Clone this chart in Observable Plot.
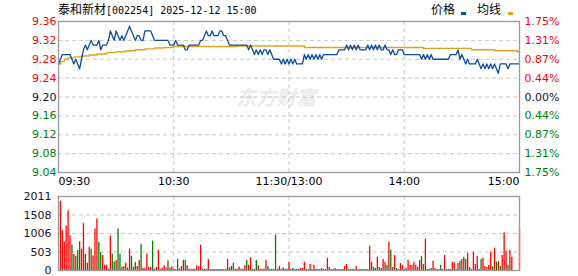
<!DOCTYPE html>
<html><head><meta charset="utf-8">
<script src="https://cdn.jsdelivr.net/npm/d3@7"></script>
<script src="https://cdn.jsdelivr.net/npm/@observablehq/plot@0.6"></script>
<style>
body{margin:0;background:#fff;}
#wrap{position:relative;width:578px;height:276px;overflow:hidden;font-family:"DejaVu Sans",sans-serif;}
#wrap svg{position:absolute;left:0;}
.t{position:absolute;white-space:nowrap;line-height:14px;color:#000;}
.cjk{font-family:"Noto Sans CJK SC";font-size:12px;}
.mono{font-family:"DejaVu Sans Mono";font-size:10px;}
.wm{position:absolute;left:236px;top:82px;font-family:"Noto Sans CJK SC";font-size:20px;font-weight:bold;font-style:italic;color:#ebebeb;white-space:nowrap;}
.sw{position:absolute;width:5px;height:3px;}
</style></head><body><div id="wrap">
<div class="wm">东方财富</div>
<div class="t" style="left:58px;top:2px;"><span class="cjk">泰和新材</span><span class="mono">[002254] 2025-12-12 15:00</span></div>
<div class="t cjk" style="left:431px;top:2px;">价格</div>
<div class="sw" style="left:461px;top:12px;background:#0A4DA2;"></div>
<div class="t cjk" style="left:477px;top:2px;">均线</div>
<div class="sw" style="left:508px;top:12px;background:#DDA21F;"></div>
</div>
<script>
const prevClose = 9.20;
const priceTicks = [9.36, 9.32, 9.28, 9.24, 9.20, 9.16, 9.12, 9.08, 9.04];
const pctLabels = ["1.75%", "1.31%", "0.87%", "0.44%", "0.00%", "0.44%", "0.87%", "1.31%", "1.75%"];
const volTicks = [2011, 1508, 1006, 503, 0];
const timeTicks = [0, 60, 120, 180, 240];
const timeLabels = ["09:30", "10:30", "11:30/13:00", "14:00", "15:00"];

// minute prices, index 0 = 09:30 ... 240 = 15:00
const price = [
9.27,9.28,9.29,9.29,9.29,9.29,9.29,9.28,9.27,9.28,
9.27,9.26,9.28,9.30,9.31,9.30,9.31,9.32,9.31,9.31,
9.31,9.32,9.30,9.31,9.31,9.31,9.32,9.34,9.33,9.32,
9.34,9.33,9.32,9.33,9.32,9.33,9.34,9.35,9.34,9.33,
9.32,9.33,9.33,9.32,9.32,9.34,9.34,9.34,9.34,9.33,
9.32,9.32,9.32,9.32,9.32,9.32,9.32,9.32,9.31,9.31,
9.31,9.32,9.31,9.31,9.31,9.31,9.30,9.30,9.31,9.31,
9.31,9.31,9.31,9.31,9.32,9.32,9.33,9.34,9.33,9.33,
9.34,9.33,9.33,9.33,9.34,9.34,9.33,9.33,9.32,9.31,
9.31,9.31,9.31,9.31,9.31,9.31,9.31,9.31,9.31,9.30,
9.31,9.30,9.29,9.30,9.29,9.30,9.29,9.30,9.30,9.29,
9.30,9.29,9.28,9.28,9.28,9.28,9.27,9.28,9.27,9.28,
9.27,9.28,9.27,9.28,9.27,9.27,9.27,9.27,9.29,9.28,
9.29,9.28,9.29,9.28,9.29,9.28,9.29,9.28,9.29,9.29,
9.29,9.29,9.29,9.29,9.29,9.29,9.30,9.30,9.30,9.30,
9.31,9.30,9.31,9.30,9.31,9.30,9.31,9.30,9.30,9.30,
9.30,9.31,9.30,9.31,9.30,9.31,9.30,9.31,9.30,9.30,
9.31,9.30,9.30,9.29,9.30,9.29,9.29,9.30,9.30,9.30,
9.29,9.29,9.29,9.29,9.29,9.29,9.29,9.29,9.29,9.28,
9.29,9.28,9.29,9.28,9.29,9.28,9.28,9.28,9.28,9.28,
9.28,9.28,9.28,9.28,9.29,9.29,9.29,9.29,9.30,9.28,
9.29,9.28,9.27,9.28,9.27,9.27,9.27,9.27,9.28,9.27,
9.26,9.27,9.26,9.27,9.26,9.27,9.26,9.27,9.26,9.25,
9.27,9.27,9.27,9.27,9.26,9.27,9.27,9.27,9.27,9.27,
9.27
];

// average-price line read at the minutes where it changes
const avgMinute = [0, 1, 3, 5, 8, 12, 16, 20, 25, 30, 35, 40, 45, 50, 55, 60, 93, 128, 190, 215, 227, 239, 240];
const avgValue = [9.270, 9.275, 9.280, 9.283, 9.285, 9.287, 9.289, 9.291, 9.294, 9.296, 9.298, 9.300, 9.302, 9.304, 9.305, 9.307, 9.308, 9.305, 9.303, 9.300, 9.298, 9.296, 9.296];

// minute volumes (lots)
const volume = [
0,1880,1075,780,1210,1625,945,690,440,385,
550,780,580,1275,440,200,630,580,395,1130,
1400,770,480,410,140,140,30,940,440,230,
275,1130,440,90,110,200,70,580,385,90,
220,110,275,715,60,60,450,90,80,800,
35,90,550,35,60,130,70,260,70,100,
30,30,300,45,110,275,275,130,35,35,
35,35,130,100,690,35,35,35,300,30,
30,30,30,30,30,30,30,30,300,70,
110,200,35,35,90,35,35,130,275,140,
350,35,35,275,130,35,35,35,275,110,
35,35,35,965,35,110,35,70,35,35,
220,30,55,30,30,30,55,55,220,30,
30,165,30,140,30,30,30,55,30,30,
330,80,30,30,55,30,30,30,30,110,
165,30,30,30,30,110,30,30,30,30,
30,30,660,220,80,55,360,80,55,300,
220,140,770,550,80,410,55,30,190,140,
30,55,275,140,140,220,140,80,275,385,
165,855,30,30,55,250,55,30,30,140,
30,410,30,30,30,220,220,30,190,250,
300,360,300,470,80,30,495,165,385,30,
300,330,110,80,140,495,110,605,220,250,
110,410,1020,525,140,550,360,0,0,0,
1130
];
// 1 = up (red), -1 = down (green)
const volDir = [
1,1,1,1,1,1,1,-1,1,-1,
-1,1,1,1,-1,1,1,-1,1,1,
1,-1,-1,1,1,1,1,1,-1,-1,
1,-1,-1,-1,1,1,1,1,-1,-1,
-1,1,1,-1,1,1,1,1,1,-1,
1,1,1,1,1,1,1,-1,1,1,
1,1,-1,1,1,1,-1,1,1,1,
1,1,1,1,1,1,1,-1,1,1,
-1,1,1,-1,1,1,1,-1,1,-1,
1,-1,1,1,1,1,1,1,-1,1,
1,1,-1,-1,1,1,1,1,1,-1,
1,-1,1,-1,1,1,-1,1,1,-1,
1,-1,-1,1,-1,1,1,1,1,-1,
1,1,1,1,-1,-1,1,1,-1,1,
1,1,1,1,1,1,1,1,1,1,
1,1,1,-1,1,1,1,1,1,1,
1,1,1,-1,-1,1,1,-1,1,1,
1,-1,1,-1,1,1,-1,1,1,1,
-1,1,1,1,1,1,1,1,1,-1,
1,1,-1,-1,-1,1,1,1,1,-1,
1,1,1,1,1,1,1,-1,1,-1,
1,-1,1,1,-1,1,1,1,1,1,
-1,1,1,1,1,1,-1,1,-1,1,
-1,1,1,1,-1,1,1,1,1,1,
1
];

const RED = "#FF0000", GREEN = "#008000", DARK = "#141432", GRID = "#c8c8c8", FRAME = "#9a9a9a";
const font = {fontFamily: "DejaVu Sans, sans-serif", fontSize: "11px", background: "none", overflow: "visible"};

const avgData = avgMinute.map((m, i) => ({m, v: avgValue[i]}));
const tickColor = d => d > prevClose ? RED : d < prevClose ? GREEN : DARK;

const priceChart = Plot.plot({
  width: 578, height: 190,
  marginLeft: 58, marginRight: 59, marginTop: 21, marginBottom: 18,
  x: {domain: [0, 240], axis: null},
  y: {domain: [9.04, 9.36], axis: null},
  style: font,
  marks: [
    Plot.ruleY(priceTicks.slice(1, -1), {stroke: GRID, strokeDasharray: "4,3"}),
    Plot.ruleX(timeTicks.slice(1, -1), {stroke: GRID, strokeDasharray: "4,3"}),
    Plot.line(avgData, {x: "m", y: "v", curve: "step-after", stroke: "#DDA21F", strokeWidth: 1.4}),
    Plot.line(price, {x: (d, i) => i, y: d => d, stroke: "#0A4DA2", strokeWidth: 1.3}),
    Plot.frame({stroke: FRAME, strokeWidth: 1.3}),
    ...[RED, DARK, GREEN].map(c => Plot.text(priceTicks, {
      filter: d => tickColor(d) === c, y: d => d, text: d => d.toFixed(2),
      frameAnchor: "left", textAnchor: "end", dx: -2, fill: c
    })),
    ...[RED, DARK, GREEN].map(c => Plot.text(priceTicks, {
      filter: d => tickColor(d) === c, y: d => d, text: (d, i) => pctLabels[i],
      frameAnchor: "right", textAnchor: "start", dx: 5, fill: c
    })),
    Plot.text(timeTicks, {filter: (d, i) => i === 0, x: d => d, text: (d, i) => timeLabels[i], frameAnchor: "bottom", dy: 12, textAnchor: "start", fill: "#000"}),
    Plot.text(timeTicks, {filter: (d, i) => i > 0 && i < timeTicks.length - 1, x: d => d, text: (d, i) => timeLabels[i], frameAnchor: "bottom", dy: 12, textAnchor: "middle", fill: "#000"}),
    Plot.text(timeTicks, {filter: (d, i) => i === timeTicks.length - 1, x: d => d, text: (d, i) => timeLabels[i], frameAnchor: "bottom", dy: 12, textAnchor: "end", fill: "#000"})
  ]
});
priceChart.style.top = "0px";

const volumeChart = Plot.plot({
  width: 578, height: 86,
  marginLeft: 58, marginRight: 59, marginTop: 6, marginBottom: 6,
  x: {domain: [0, 240], axis: null},
  y: {domain: [0, 2011], axis: null},
  style: font,
  marks: [
    Plot.ruleY(volTicks.slice(1, -1), {stroke: GRID, strokeDasharray: "4,3"}),
    Plot.ruleX(timeTicks.slice(1, -1), {stroke: GRID, strokeDasharray: "4,3"}),
    Plot.ruleX(volume, {filter: (d, i) => volDir[i] > 0 && d > 0, x: (d, i) => i, y1: 0, y2: d => d, stroke: RED, strokeWidth: 1.3}),
    Plot.ruleX(volume, {filter: (d, i) => volDir[i] < 0 && d > 0, x: (d, i) => i, y1: 0, y2: d => d, stroke: GREEN, strokeWidth: 1.3}),
    Plot.frame({stroke: FRAME, strokeWidth: 1.3}),
    Plot.text(volTicks, {y: d => d, text: d => String(d), frameAnchor: "left", textAnchor: "end", dx: -7, fill: DARK})
  ]
});
volumeChart.style.top = "190px";

const wrap = document.getElementById("wrap");
wrap.appendChild(priceChart);
wrap.appendChild(volumeChart);
</script>
</body></html>
